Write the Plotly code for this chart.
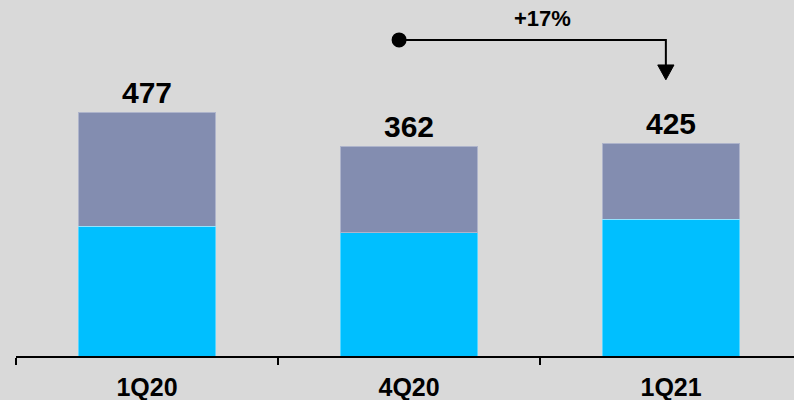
import plotly.graph_objects as go

categories = ["1Q20", "4Q20", "1Q21"]
bottom_values = [254, 241, 267]
top_values = [223, 169, 149]
total_labels = ["477", "362", "425"]
growth_label = "+17%"

BG = "#d9d9d9"
C_BOTTOM = "#00bfff"
C_TOP = "#838db0"
FONT = "Liberation Sans, Arial, sans-serif"

fig = go.Figure()
fig.add_trace(go.Bar(x=categories, y=bottom_values, marker=dict(color=C_BOTTOM, line=dict(color="rgba(255,255,255,0.35)", width=1)), width=0.525))
fig.add_trace(go.Bar(x=categories, y=top_values, marker=dict(color=C_TOP, line=dict(color="rgba(255,255,255,0.35)", width=1)), width=0.525))

totals = [b + t for b, t in zip(bottom_values, top_values)]
for c, tot, lab in zip(categories, totals, total_labels):
    fig.add_annotation(x=c, y=tot, text=lab, showarrow=False, yanchor="bottom", yshift=1,
                       font=dict(family=FONT, size=30, color="black", weight="bold"))

# growth arrow from 4Q20 to 1Q21
x_start, x_end = 0.962, 1.98
y_line, y_head_top, y_tip = 618, 569, 540
hw = 0.031
fig.add_shape(type="path", path=f"M {x_start} {y_line} L {x_end} {y_line} L {x_end} {y_head_top}",
              line=dict(color="black", width=2), xref="x", yref="y")
fig.add_shape(type="path", path=f"M {x_end-hw} {y_head_top} L {x_end+hw} {y_head_top} L {x_end} {y_tip} Z",
              line=dict(color="black", width=1), fillcolor="black", xref="x", yref="y")
fig.add_shape(type="circle", xref="x", yref="y", xsizemode="pixel", ysizemode="pixel",
              xanchor=x_start, yanchor=y_line, x0=-7.5, x1=7.5, y0=-7.5, y1=7.5,
              fillcolor="black", line=dict(color="black", width=0))
fig.add_annotation(x=1.51, y=659, text=growth_label, showarrow=False, yanchor="middle",
                   font=dict(family=FONT, size=22, color="black", weight="bold"))

fig.update_layout(
    barmode="stack", width=794, height=400, showlegend=False,
    paper_bgcolor=BG, plot_bgcolor=BG,
    margin=dict(l=16, r=0, t=0, b=44),
    xaxis=dict(range=[-0.5, 2.469], showline=True, linecolor="black", linewidth=1.5,
               ticks="outside", tickson="boundaries", ticklen=7, tickcolor="black", tickwidth=1.5,
               ticklabelstandoff=8,
               tickfont=dict(family=FONT, size=25, color="black", weight="bold"),
               showgrid=False, zeroline=False),
    yaxis=dict(range=[0, 696], visible=False, showgrid=False, zeroline=False),
)

fig.write_html("out.html")
